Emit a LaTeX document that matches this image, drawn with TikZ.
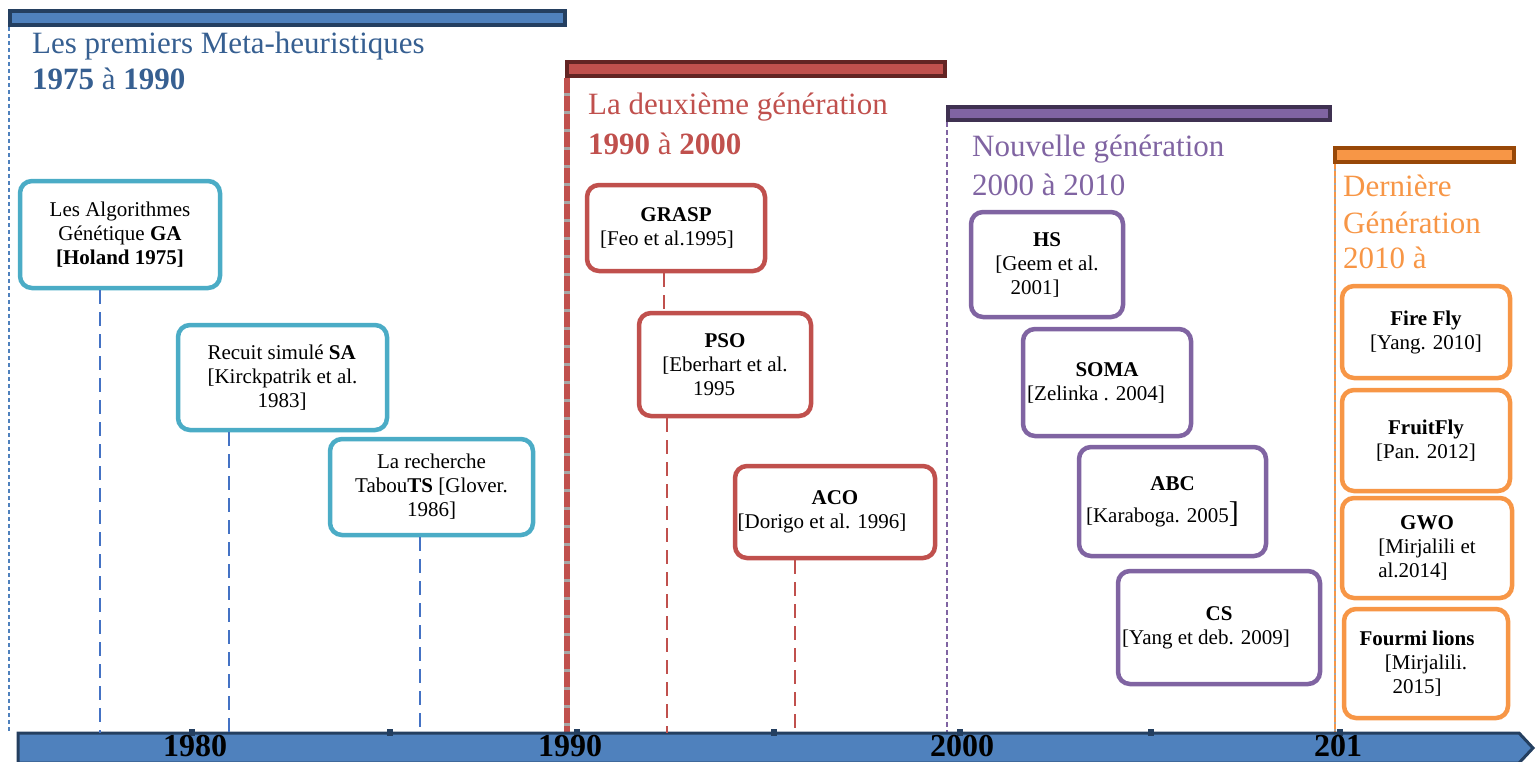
\documentclass[tikz,border=0pt]{standalone}
\usepackage{fontspec}
\setmainfont{Liberation Serif}
\definecolor{cblue}{HTML}{4F81BD}
\definecolor{cnavy}{HTML}{243F60}
\definecolor{cteal}{HTML}{4BACC6}
\definecolor{ctitleblue}{HTML}{365F91}
\definecolor{cdash}{HTML}{4472C4}
\definecolor{cred}{HTML}{C0504D}
\definecolor{cdarkred}{HTML}{632423}
\definecolor{cpurple}{HTML}{8064A2}
\definecolor{cdarkpurple}{HTML}{3F3151}
\definecolor{corange}{HTML}{F79646}
\definecolor{cdarkorange}{HTML}{984807}
\definecolor{cgrey}{HTML}{A6A6A6}
\tikzset{
  box/.style={draw, line width=4.5pt, rounded corners=12pt, fill=white, inner sep=0pt,
    align=center, text=black, font=\fontsize{21}{24}\selectfont},
  tealbox/.style={box, draw=cteal},
  redbox/.style={box, draw=cred},
  purplebox/.style={box, draw=cpurple},
  orangebox/.style={box, draw=corange},
  ttl/.style={anchor=base west, inner sep=0pt, font=\fontsize{31}{36}\selectfont},
  yearlbl/.style={anchor=base, inner sep=0pt, font=\fontsize{32}{32}\selectfont\bfseries, text=black},
  bar/.style={line width=4pt},
  bluelink/.style={draw=cdash, line width=1.5pt, dash pattern=on 14pt off 8pt},
  redlink/.style={draw=cred, line width=1.8pt, dash pattern=on 14pt off 8pt},
  tick/.style={fill=cnavy, draw=none},
}
\begin{document}
\begin{tikzpicture}[x=1pt,y=-1pt]
\useasboundingbox (0,0) rectangle (1537,761);

% period separators
\draw[cblue, line width=1.3pt, dash pattern=on 4pt off 3pt] (9,27) -- (9,733);
\draw[cgrey, line width=5.5pt] (567,78) -- (567,761);
\draw[cred, line width=5.5pt, dash pattern=on 15pt off 3pt] (567,78) -- (567,761);
\draw[cpurple, line width=1.4pt, dash pattern=on 5pt off 3pt] (947,122) -- (947,733);
\draw[cgrey, line width=2pt] (1335,164) -- (1335,733);
\draw[corange, line width=2pt, dash pattern=on 5pt off 2pt] (1335,164) -- (1335,733);

% period bars
\draw[bar, draw=cnavy, fill=cblue] (10,11) rectangle (565,25);
\draw[bar, draw=cdarkred, fill=cred] (567,62) rectangle (945,76);
\draw[bar, draw=cdarkpurple, fill=cpurple] (948,107) rectangle (1330,120);
\draw[bar, draw=cdarkorange, fill=corange] (1335,148) rectangle (1514,162);

% period titles
\node[ttl, text=ctitleblue] (t1a) at (32,53) {Les premiers Meta-heuristiques};
\node[ttl, text=ctitleblue] (t1b) at (32,89) {\textbf{1975} à \textbf{1990}};
\node[ttl, text=cred] (t2a) at (588,114) {La deuxième génération};
\node[ttl, text=cred] (t2b) at (588,154) {\textbf{1990} à \textbf{2000}};
\node[ttl, text=cpurple] (t3a) at (972,156) {Nouvelle génération};
\node[ttl, text=cpurple] (t3b) at (972,195) {2000 à 2010};
\node[ttl, text=corange] (t4a) at (1343,196) {Dernière};
\node[ttl, text=corange] (t4b) at (1343,233) {Génération};
\node[ttl, text=corange] (t4c) at (1343,268) {2010 à};

% axis
\draw[draw=cnavy, fill=cblue, line width=3pt, line join=miter]
  (18,733) -- (1519,733) -- (1533,748) -- (1519,763) -- (18,763) -- cycle;
\foreach \tx in {192,390,577,774,960,1151,1340}
  \fill[tick] (\tx-3,729) rectangle (\tx+3,736);
\node[yearlbl] (y1980) at (195,756) {1980};
\node[yearlbl] (y1990) at (570,756) {1990};
\node[yearlbl] (y2000) at (962,756) {2000};
\node[yearlbl] (y2010) at (1338,756) {201};

% boxes
\node[tealbox, minimum width=200pt, minimum height=107pt] (ga) at (120,234.5)
  {Les Algorithmes\\Génétique \textbf{GA}\\\textbf{[Holand 1975]}};
\node[tealbox, minimum width=209pt, minimum height=105pt, align=left] (sa) at (282.5,377.5)
  {Recuit simulé \textbf{SA}\\{[}Kirckpatrik et al.\hspace*{30pt}\\\hspace*{50pt}1983]};
\node[tealbox, minimum width=203pt, minimum height=96pt] (ts) at (431.5,487)
  {La recherche\\Tabou\textbf{TS} [Glover.\\1986]};

\node[redbox, minimum width=178pt, minimum height=86pt] (grasp) at (676,228)
  {\textbf{GRASP}\\{[}Feo et al.1995]\hspace*{18pt}};
\node[redbox, minimum width=172pt, minimum height=103pt] (pso) at (725,364.5)
  {\textbf{PSO}\\{[}Eberhart et al.\hspace*{22pt}\\1995\hspace*{22pt}};
\node[redbox, minimum width=200pt, minimum height=92pt] (aco) at (835,512)
  {\textbf{ACO}\\{[}Dorigo et al. 1996]\hspace*{26pt}};

\node[purplebox, minimum width=152pt, minimum height=105pt] (hs) at (1047,264.5)
  {\textbf{HS}\\{[}Geem et al.\hspace*{24pt}\\2001]\hspace*{24pt}};
\node[purplebox, minimum width=168pt, minimum height=107pt] (soma) at (1107,382.5)
  {\textbf{SOMA}\\{[}Zelinka . 2004]\hspace*{22pt}};
\node[purplebox, minimum width=187pt, minimum height=109pt] (abc) at (1172.5,501.5)
  {\textbf{ABC}\\[8pt]{[}Karaboga. 2005{\fontsize{30}{30}\selectfont]}\hspace*{20pt}};
\node[purplebox, minimum width=202pt, minimum height=113pt] (cs) at (1219,627.5)
  {\textbf{CS}\\{[}Yang et deb. 2009]\hspace*{26pt}};

\node[orangebox, minimum width=168pt, minimum height=92pt] (ff) at (1426,332)
  {\textbf{Fire Fly}\\{[}Yang. 2010]};
\node[orangebox, minimum width=168pt, minimum height=101pt] (fruit) at (1426,440.5)
  {\textbf{FruitFly}\\{[}Pan. 2012]};
\node[orangebox, minimum width=170pt, minimum height=100pt] (gwo) at (1427,548)
  {\textbf{GWO}\\{[}Mirjalili et\hspace*{28pt}\\al.2014]\hspace*{28pt}};
\node[orangebox, minimum width=164pt, minimum height=109pt] (ant) at (1426,663.5)
  {\textbf{Fourmi lions}\hspace*{18pt}\\{[}Mirjalili.\hspace*{18pt}\\2015]\hspace*{18pt}};

% connectors to the axis
\coordinate (ga-t) at (100,733);
\coordinate (sa-t) at (229,733);
\coordinate (ts-t) at (420,733);
\coordinate (gp-x) at (664,0);
\coordinate (pso-t) at (667,733);
\coordinate (aco-t) at (795,733);
\draw[bluelink] (ga.south -| ga-t) -- (ga-t);
\draw[bluelink] (sa.south -| sa-t) -- (sa-t);
\draw[bluelink] (ts.south -| ts-t) -- (ts-t);
\draw[redlink] (grasp.south -| gp-x) -- (pso.north -| gp-x);
\draw[redlink] (pso.south -| pso-t) -- (pso-t);
\draw[redlink] (aco.south -| aco-t) -- (aco-t);
\end{tikzpicture}
\end{document}
